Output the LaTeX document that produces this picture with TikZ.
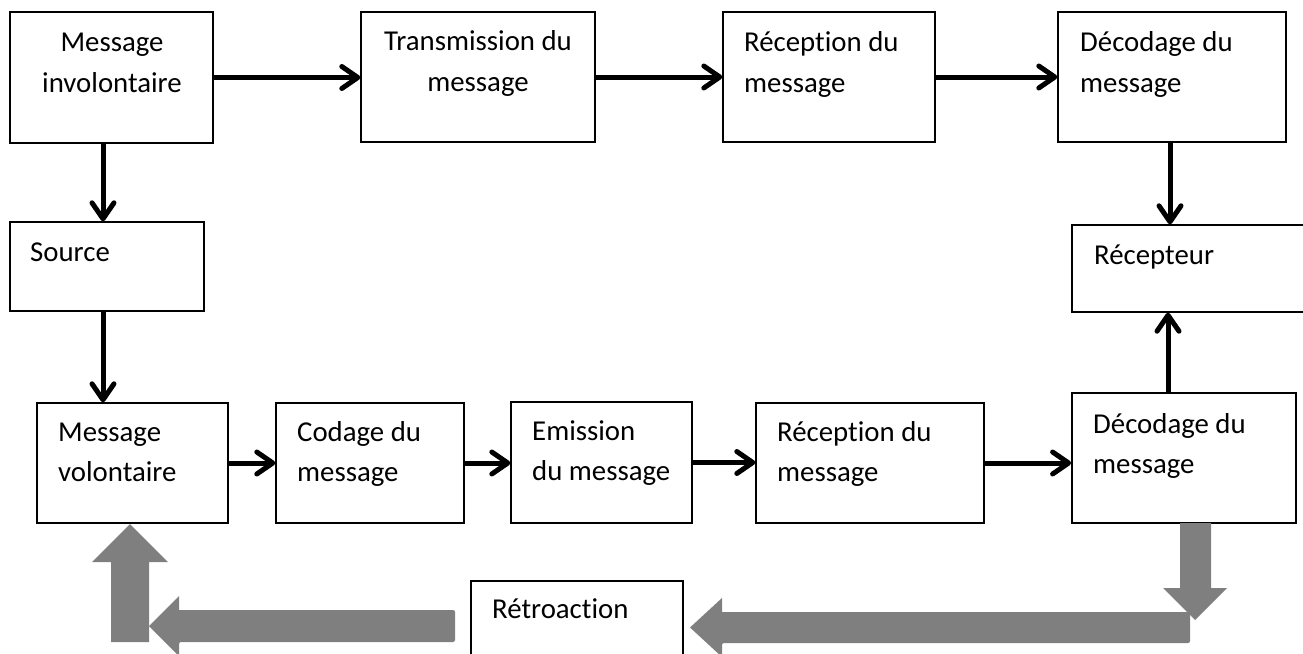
\documentclass[tikz,border=0pt]{standalone}
\usepackage{fontspec}
\setmainfont[Ligatures=NoCommon]{Carlito}
\usetikzlibrary{arrows.meta}
\definecolor{fbgray}{HTML}{7F7F7F}
\begin{document}
\begin{tikzpicture}[x=1pt,y=-1pt,
  box/.style={draw=black, line width=1.4pt, fill=white, inner sep=0pt},
  lbl/.style={inner sep=0pt, font=\fontsize{28.8}{34}\selectfont, anchor=base west},
  clbl/.style={lbl, anchor=base},
  flow/.style={line width=5pt, -{Straight Barb[length=16pt,width=22pt,round]}},
  fback/.style={fill=fbgray, draw=none}]
\useasboundingbox (0,0) rectangle (1303,653);
\clip (0,0) rectangle (1303,653);

% top row
\node[box, minimum width=203pt, minimum height=131pt] (b1) at (111.5,77.5) {};
\node[box, minimum width=234pt, minimum height=130pt] (b2) at (478,77) {};
\node[box, minimum width=212pt, minimum height=130pt] (b3) at (829,77) {};
\node[box, minimum width=228pt, minimum height=130pt] (b4) at (1172,77) {};
% middle row
\node[box, minimum width=194pt, minimum height=89pt] (src) at (107,266.5) {};
\node[box, minimum width=248pt, minimum height=87pt] (rec) at (1196,268.5) {};
% bottom row
\node[box, minimum width=191pt, minimum height=120pt] (mv) at (132.5,463) {};
\node[box, minimum width=188pt, minimum height=120pt] (cod) at (370,463) {};
\node[box, minimum width=181pt, minimum height=121pt] (emi) at (601.5,462.5) {};
\node[box, minimum width=228pt, minimum height=120pt] (rcp) at (870,463) {};
\node[box, line width=1.8pt, minimum width=224pt, minimum height=130pt] (dec) at (1184,458) {};
\node[box, minimum width=212pt, minimum height=99pt] (ret) at (577,630.5) {};

% labels
\node[clbl] (t1a) at (112,51) {Message};
\node[clbl] (t1b) at (112,92) {involontaire};
\node[clbl] (t2a) at (478,50) {Transmission du};
\node[clbl] (t2b) at (478,91) {message};
\node[lbl] (t3a) at (744,51) {Réception du};
\node[lbl] (t3b) at (744,92) {message};
\node[lbl] (t4a) at (1080,51) {Décodage du};
\node[lbl] (t4b) at (1080,92) {message};
\node[lbl] (tsrc) at (30,261) {Source};
\node[lbl] (trec) at (1094,264) {Récepteur};
\node[lbl] (tmva) at (58,441) {Message};
\node[lbl] (tmvb) at (58,481) {volontaire};
\node[lbl] (tcoa) at (297,441) {Codage du};
\node[lbl] (tcob) at (297,481) {message};
\node[lbl] (tema) at (532,440) {Emission};
\node[lbl] (temb) at (532,480) {du message};
\node[lbl] (trca) at (777,441) {Réception du};
\node[lbl] (trcb) at (777,481) {message};
\node[lbl] (tdea) at (1093,433) {Décodage du};
\node[lbl] (tdeb) at (1093,473) {message};
\node[lbl] (tret) at (492,618) {Rétroaction};

% black flow connectors
\draw[flow] (b1.east) -- (b1.east -| b2.west);
\draw[flow] (b2.east) -- (b2.east -| b3.west);
\draw[flow] (b3.east) -- (b3.east -| b4.west);
\draw[flow] ([xshift=-8.5pt]b1.south) -- ([xshift=-8.5pt]b1.south |- src.north);
\draw[flow] ([xshift=-4pt]src.south) -- ([xshift=-4pt]src.south |- mv.north);
\draw[flow] ([xshift=-2pt]b4.south) -- ([xshift=-2pt]b4.south |- rec.north);
\draw[flow] ([xshift=-16pt]dec.north) -- ([xshift=-16pt]dec.north |- rec.south);
\draw[flow] (mv.east) -- (mv.east -| cod.west);
\draw[flow] (cod.east) -- (cod.east -| emi.west);
\draw[flow] (emi.east) -- (emi.east -| rcp.west);
\draw[flow] (rcp.east) -- (rcp.east -| dec.west);

% grey feedback arrows
\fill[fback, rounded corners=2pt] (722,612) -- (1190,612) -- (1190,643) -- (722,643)
  [sharp corners] -- (722,657) -- (690,627.5) -- (722,598) -- cycle;
\fill[fback] (1180,523) -- (1211,523) -- (1211,588) -- (1227,588) -- (1195,620)
  -- (1163,588) -- (1180,588) -- cycle;
\fill[fback, rounded corners=2pt] (179,610) -- (455,610) -- (455,642) -- (179,642)
  [sharp corners] -- (179,656) -- (149,626) -- (179,596) -- cycle;
\fill[fback] (111,642) -- (111,562) -- (92,562) -- (130,524) -- (168,562)
  -- (149,562) -- (149,642) -- cycle;
\end{tikzpicture}
\end{document}
